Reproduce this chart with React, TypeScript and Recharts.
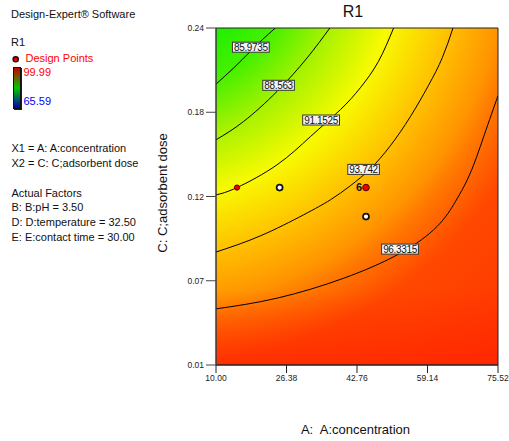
import React from 'react';
import { ComposedChart, XAxis, YAxis, Line, Scatter, ReferenceArea } from 'recharts';

const xTicks = [10, 26.38, 42.76, 59.14, 75.52];
const yTicks = [0.01, 0.0675, 0.125, 0.1825, 0.24];
const yTickLabels = ['0.01', '0.07', '0.12', '0.18', '0.24'];

// contour lines of R1
const contour85 = [
  { x: 10, y: 0.2017 }, { x: 14.09, y: 0.2127 }, { x: 17.97, y: 0.224 },
  { x: 20.76, y: 0.232 }, { x: 23.78, y: 0.24 },
];
const contour88 = [
  { x: 10, y: 0.1637 }, { x: 16.41, y: 0.1762 }, { x: 24.17, y: 0.1967 },
  { x: 31.14, y: 0.2195 }, { x: 36.45, y: 0.24 },
];
const contour91 = [
  { x: 10, y: 0.1261 }, { x: 14.88, y: 0.1311 }, { x: 24.17, y: 0.1466 },
  { x: 31.91, y: 0.1658 }, { x: 38.88, y: 0.1842 }, { x: 43.53, y: 0.1992 },
  { x: 47.71, y: 0.217 }, { x: 51.26, y: 0.24 },
];
const contour93 = [
  { x: 10, y: 0.0871 }, { x: 20.29, y: 0.0981 }, { x: 30.35, y: 0.1125 },
  { x: 36.56, y: 0.1227 }, { x: 41.2, y: 0.1323 }, { x: 45.85, y: 0.1439 },
  { x: 50.5, y: 0.1596 }, { x: 55.14, y: 0.1794 }, { x: 59.33, y: 0.2006 },
  { x: 62.58, y: 0.2197 }, { x: 65.06, y: 0.24 },
];
const contour96 = [
  { x: 10, y: 0.0483 }, { x: 24.17, y: 0.0556 }, { x: 39.65, y: 0.0692 },
  { x: 52.82, y: 0.0863 }, { x: 61.35, y: 0.1045 }, { x: 65.6, y: 0.1214 },
  { x: 68.39, y: 0.1364 }, { x: 70.48, y: 0.1514 }, { x: 72.34, y: 0.1671 },
  { x: 73.96, y: 0.1808 }, { x: 75.52, y: 0.1938 },
];

const contourLabels = [
  { x: 18.09, y: 0.2269, text: '85.9735' },
  { x: 24.54, y: 0.2009, text: '88.563' },
  { x: 34.42, y: 0.1772, text: '91.1525' },
  { x: 44.29, y: 0.1435, text: '93.742' },
  { x: 52.75, y: 0.0891, text: '96.3315' },
];

const designPoints = [
  { x: 14.88, y: 0.1311, kind: 'red', count: '' },
  { x: 24.78, y: 0.1311, kind: 'ring', count: '' },
  { x: 44.85, y: 0.1311, kind: 'red', count: '6' },
  { x: 44.85, y: 0.1113, kind: 'ring', count: '' },
];

const legendLines = [
  { top: 141.5, text: 'X1 = A: A:concentration' },
  { top: 156.5, text: 'X2 = C: C;adsorbent dose' },
  { top: 186.5, text: 'Actual Factors' },
  { top: 201, text: 'B: B:pH = 3.50' },
  { top: 216, text: 'D: D:temperature = 32.50' },
  { top: 231, text: 'E: E:contact time = 30.00' },
];

const W = 509;
const H = 441;
const margin = { top: 28, right: 11, left: 0, bottom: 0 };
const yAxisWidth = 216;
const xAxisHeight = 76;
const plotLeft = margin.left + yAxisWidth;
const plotTop = margin.top;
const plotW = W - plotLeft - margin.right;
const plotH = H - plotTop - xAxisHeight - margin.bottom;
const sx = (v: number) => plotLeft + ((v - 10) / (75.52 - 10)) * plotW;
const sy = (v: number) => plotTop + ((0.24 - v) / (0.24 - 0.01)) * plotH;

// response surface rises away from a low point beyond the top-left corner
const surfaceCenter = { x: -5.26, y: 0.2935 };
const surfaceStops = [
  { o: 0, c: '#00e000' },
  { o: 0.182, c: '#1ef000' },
  { o: 0.2625, c: '#48f000' },
  { o: 0.348, c: '#a8f200' },
  { o: 0.446, c: '#f8fa00' },
  { o: 0.552, c: '#ffc000' },
  { o: 0.636, c: '#ff9400' },
  { o: 0.67, c: '#ff7800' },
  { o: 0.75, c: '#ff4800' },
  { o: 1, c: '#ff3000' },
];

const font = "'Liberation Sans', Arial, sans-serif";

const ContourLabel = (props: any) => {
  const { cx, cy, payload } = props;
  const w = (payload.text.length - 1) * 5.2 + 2.6 + 3;
  return (
    <g>
      <rect x={cx - w / 2} y={cy - 5} width={w} height={10} fill="#f4f4f4" stroke="#333" strokeWidth={1} />
      <text x={cx} y={cy + 3.6} textAnchor="middle" fontSize={10} fontFamily={font} fill="#111" letterSpacing={-0.35}>
        {payload.text}
      </text>
    </g>
  );
};

const DesignPoint = (props: any) => {
  const { cx, cy, payload } = props;
  return (
    <g>
      {payload.kind === 'ring' ? (
        <circle cx={cx} cy={cy} r={3} fill="#fff" stroke="#111" strokeWidth={1.7} />
      ) : (
        <circle cx={cx} cy={cy} r={payload.count ? 3.3 : 2.6} fill="#ee0000" stroke="#500" strokeWidth={1} />
      )}
      {payload.count && (
        <text x={cx - 7} y={cy + 3.6} textAnchor="middle" fontSize={11} fontWeight="bold" fontFamily={font} fill="#111">
          {payload.count}
        </text>
      )}
    </g>
  );
};

const contours = [contour85, contour88, contour91, contour93, contour96];

export default function App() {
  const cx = sx(surfaceCenter.x);
  const cy = sy(surfaceCenter.y);
  return (
    <div style={{ position: 'absolute', left: 0, top: 0, width: W, height: H, background: '#fff', fontFamily: font, color: '#111' }}>
      <div style={{ position: 'absolute', left: 11, top: 7.5, fontSize: 11, lineHeight: '13px' }}>Design-Expert® Software</div>
      <div style={{ position: 'absolute', left: 11, top: 36, fontSize: 11, lineHeight: '13px' }}>R1</div>
      <svg style={{ position: 'absolute', left: 11, top: 55 }} width={10} height={10}>
        <circle cx={4.7} cy={4.3} r={2.6} fill="#ee0000" stroke="#111" strokeWidth={1.4} />
      </svg>
      <div style={{ position: 'absolute', left: 25.5, top: 52, fontSize: 11, lineHeight: '13px', color: '#ff0000' }}>Design Points</div>
      <div
        style={{
          position: 'absolute',
          left: 13,
          top: 66.5,
          width: 6,
          height: 40,
          border: '1.5px solid #111',
          boxShadow: '1px 1px 0 #0000ff',
          background: 'linear-gradient(to bottom, #c80000, #00c800 50%, #0000b0)',
        }}
      />
      <div style={{ position: 'absolute', left: 23.5, top: 66, fontSize: 11, lineHeight: '13px', color: '#ff0000' }}>99.99</div>
      <div style={{ position: 'absolute', left: 23.5, top: 94.5, fontSize: 11, lineHeight: '13px', color: '#0000ff' }}>65.59</div>
      {legendLines.map((l) => (
        <div key={l.text} style={{ position: 'absolute', left: 11.5, top: l.top, fontSize: 11, lineHeight: '13px', whiteSpace: 'nowrap' }}>
          {l.text}
        </div>
      ))}
      <div style={{ position: 'absolute', left: 303, width: 100, top: 2, fontSize: 16, lineHeight: '19px', textAlign: 'center' }}>R1</div>
      <div
        style={{
          position: 'absolute',
          left: 162.5 - 80,
          top: 193 - 8,
          width: 160,
          height: 16,
          fontSize: 13,
          lineHeight: '16px',
          textAlign: 'center',
          transform: 'rotate(-90deg)',
          whiteSpace: 'nowrap',
        }}
      >
        C: C;adsorbent dose
      </div>
      <div style={{ position: 'absolute', left: 355.5 - 80, width: 160, top: 421.5, fontSize: 13, lineHeight: '16px', textAlign: 'center', whiteSpace: 'pre' }}>
        A:  A:concentration
      </div>

      <div style={{ position: 'absolute', left: 0, top: 0 }}>
        <ComposedChart width={W} height={H} margin={margin}>
          <defs>
            <radialGradient id="surface" gradientUnits="userSpaceOnUse" cx={cx} cy={cy} r={560} fx={cx} fy={cy}>
              {surfaceStops.map((s) => (
                <stop key={s.o} offset={s.o} stopColor={s.c} />
              ))}
            </radialGradient>
            <linearGradient id="bottomRed" x1="0" y1="0" x2="0" y2="1">
              <stop offset="0.78" stopColor="#ff2000" stopOpacity={0} />
              <stop offset="1" stopColor="#ff2000" stopOpacity={0.6} />
            </linearGradient>
          </defs>
          <XAxis
            type="number"
            dataKey="x"
            domain={[10, 75.52]}
            ticks={xTicks}
            interval={0}
            allowDataOverflow
            height={xAxisHeight}
            tickSize={8}
            tickMargin={2}
            tickFormatter={(v: number) => v.toFixed(2)}
            tick={{ fontSize: 8.5, fill: '#222', fontFamily: font }}
            stroke="#222"
          />
          <YAxis
            type="number"
            dataKey="y"
            domain={[0.01, 0.24]}
            ticks={yTicks}
            interval={0}
            allowDataOverflow
            width={yAxisWidth}
            tickSize={10}
            tickMargin={2}
            tickFormatter={(v: number) => yTickLabels[yTicks.indexOf(v)]}
            tick={{ fontSize: 8.5, fill: '#222', fontFamily: font }}
            stroke="#444"
          />
          <ReferenceArea x1={10} x2={75.52} y1={0.01} y2={0.24} fill="url(#surface)" fillOpacity={1} stroke="none" />
          <ReferenceArea x1={10} x2={75.52} y1={0.01} y2={0.24} fill="url(#bottomRed)" fillOpacity={1} stroke="#222" strokeWidth={1} />
          {contours.map((c, i) => (
            <Line
              key={i}
              data={c}
              dataKey="y"
              type="natural"
              stroke="#000"
              strokeWidth={1}
              dot={false}
              activeDot={false}
              isAnimationActive={false}
            />
          ))}
          <Scatter data={contourLabels} dataKey="y" shape={ContourLabel} isAnimationActive={false} />
          <Scatter data={designPoints} dataKey="y" shape={DesignPoint} isAnimationActive={false} />
        </ComposedChart>
      </div>
    </div>
  );
}
